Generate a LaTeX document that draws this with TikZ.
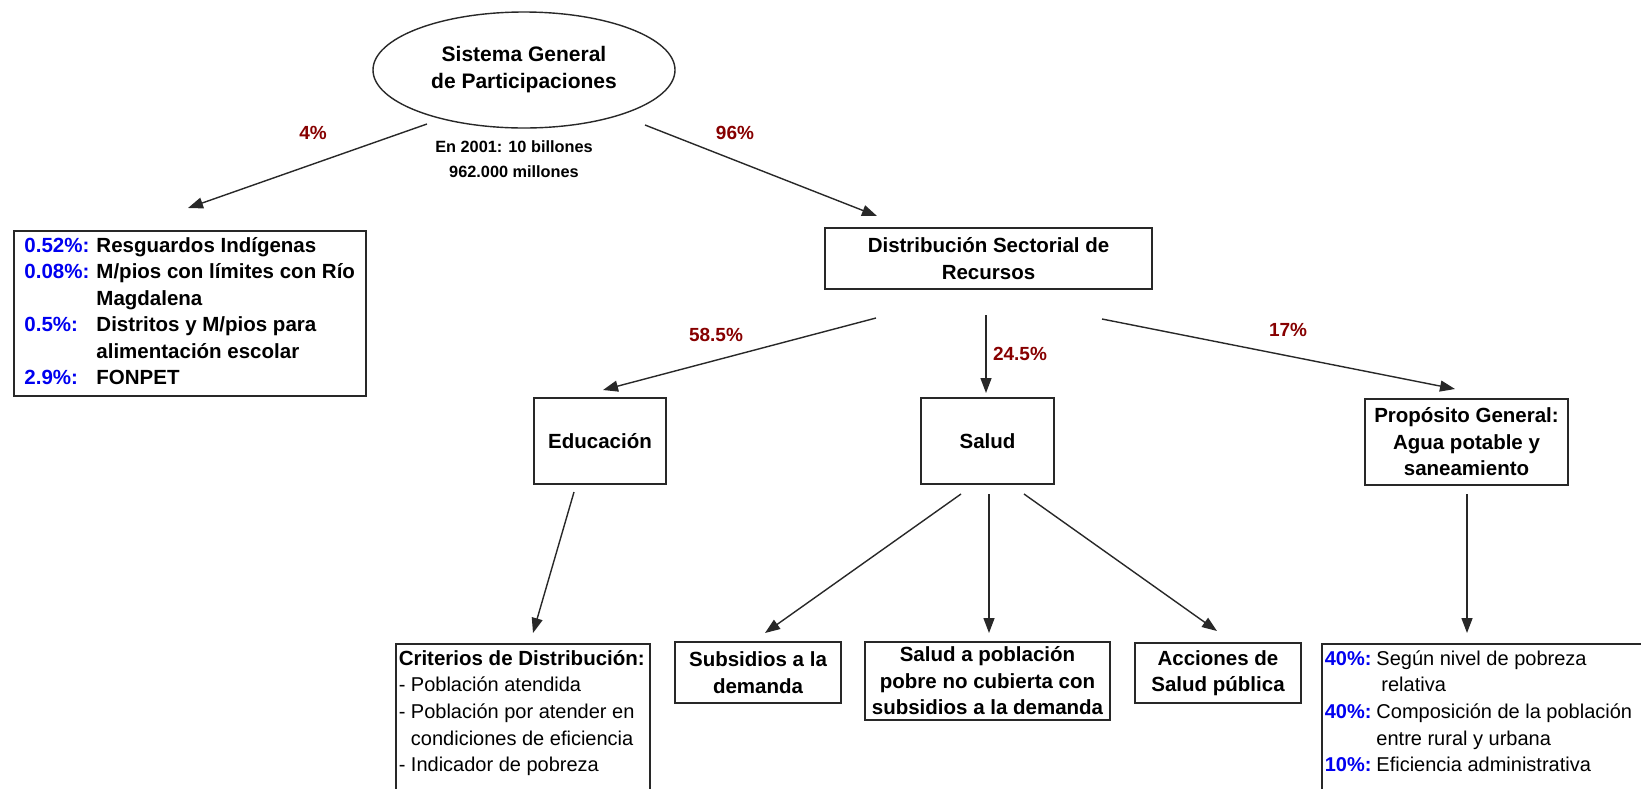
\documentclass[tikz,border=0pt]{standalone}
\usepackage{fontspec}
\setmainfont{Liberation Sans}
\usetikzlibrary{shapes.geometric,arrows.meta}
\definecolor{pctred}{RGB}{135,0,0}
\definecolor{pctblue}{RGB}{0,0,240}
\definecolor{edge}{RGB}{40,40,40}
\newcommand{\myfs}[2]{\fontsize{#1}{#2}\selectfont}
\begin{document}
\begin{tikzpicture}[x=1pt,y=-1pt,
  box/.style={draw=edge,line width=1.5pt,align=center,inner sep=2pt,font=\bfseries\myfs{20.5}{26.5}},
  ell/.style={draw=edge,line width=1.4pt,ellipse,align=center,inner sep=0pt,font=\bfseries\myfs{21}{27}},
  pct/.style={text=pctred,font=\bfseries\myfs{19}{22}},
  note/.style={align=center,font=\bfseries\myfs{16.3}{25}},
  arr/.style={draw=edge,line width=1.4pt,-{Triangle[length=15pt,width=11pt]}}]
\useasboundingbox (0,0) rectangle (1641,788);
\clip (0,0) rectangle (1641,788);
\fill[white] (0,0) rectangle (1641,788);

% top
\node[ell,minimum width=302,minimum height=116] (sgp) at (524,70) {Sistema General\\de Participaciones};
\node[note] (tot) at (514,159.5) {En 2001: 10 billones\\962.000 millones};
\node[pct] (p4) at (313,133) {4\%};
\node[pct] (p96) at (735,133) {96\%};

% left box
\node[box,anchor=north west,minimum width=352,minimum height=165,align=left,inner sep=3pt] (res) at (13,230) {%
\begin{tabular}{@{}l@{\hspace{7pt}}l@{}}
\textcolor{pctblue}{0.52\%:} & Resguardos Indígenas\\
\textcolor{pctblue}{0.08\%:} & M/pios con límites con Río\\
 & Magdalena\\
\textcolor{pctblue}{0.5\%:} & Distritos y M/pios para\\
 & alimentación escolar\\
\textcolor{pctblue}{2.9\%:} & FONPET
\end{tabular}};

% sector level
\node[box,minimum width=327,minimum height=61,font=\bfseries\myfs{20.5}{27}] (dsr) at (988.5,258.5) {Distribución Sectorial de\\Recursos};
\node[pct] (p585) at (716,335) {58.5\%};
\node[pct] (p245) at (1020,354) {24.5\%};
\node[pct] (p17) at (1288,330) {17\%};

\node[box,minimum width=132,minimum height=86] (edu) at (600,441) {Educación};
\node[box,minimum width=133,minimum height=86] (sal) at (987.5,441) {Salud};
\node[box,minimum width=203,minimum height=86] (pg) at (1466.5,442) {Propósito General:\\Agua potable y\\saneamiento};

% bottom level
\node[box,anchor=north west,align=left,inner sep=3pt] (cri) at (395,643) {%
\parbox[t][200pt][t]{248pt}{\strut\bfseries\myfs{20.5}{26.6}\strut Criterios de Distribución:\\
\mdseries\myfs{20}{26.6}- Población atendida\\
- Población por atender en\\
\phantom{- }condiciones de eficiencia\\
- Indicador de pobreza}};
\node[box,minimum width=166,minimum height=61] (sub) at (758,672.5) {Subsidios a la\\demanda};
\node[box,minimum width=245,minimum height=78] (spn) at (987.5,681) {Salud a población\\pobre no cubierta con\\subsidios a la demanda};
\node[box,minimum width=166,minimum height=60] (acc) at (1218,673) {Acciones de\\Salud pública};
\node[box,anchor=north west,align=left,inner sep=3pt] (agu) at (1321,643) {%
\parbox[t][200pt][t]{400pt}{\mdseries\myfs{20}{26.6}%
\begin{tabular}[t]{@{}l@{\hspace{5pt}}l@{}}
\textbf{\textcolor{pctblue}{40\%:}} & Según nivel de pobreza\\
 & \hspace{5pt}relativa\\
\textbf{\textcolor{pctblue}{40\%:}} & Composición de la población\\
 & entre rural y urbana\\
\textbf{\textcolor{pctblue}{10\%:}} & Eficiencia administrativa
\end{tabular}}};

% connector end points
\coordinate (a1) at (427,124);  \coordinate (a2) at (188,208);
\coordinate (b1) at (645,125);  \coordinate (b2) at (877,216);
\coordinate (c1) at (876,318);  \coordinate (c2) at (603,390);
\coordinate (d1) at (986,315);  \coordinate (d2) at (986,393);
\coordinate (e1) at (1102,319); \coordinate (e2) at (1455,389);
\coordinate (f1) at (574,492);  \coordinate (f2) at (533,633);
\coordinate (g1) at (961,494);  \coordinate (g2) at (765,633);
\coordinate (h1) at (989,494);  \coordinate (h2) at (989,633);
\coordinate (i1) at (1024,494); \coordinate (i2) at (1217,631);
\coordinate (j1) at (1467,494); \coordinate (j2) at (1467,633);

\draw[arr] (a1) -- (a2);
\draw[arr] (b1) -- (b2);
\draw[arr] (c1) -- (c2);
\draw[arr] (d1) -- (d2);
\draw[arr] (e1) -- (e2);
\draw[arr] (f1) -- (f2);
\draw[arr] (g1) -- (g2);
\draw[arr] (h1) -- (h2);
\draw[arr] (i1) -- (i2);
\draw[arr] (j1) -- (j2);
\end{tikzpicture}
\end{document}
